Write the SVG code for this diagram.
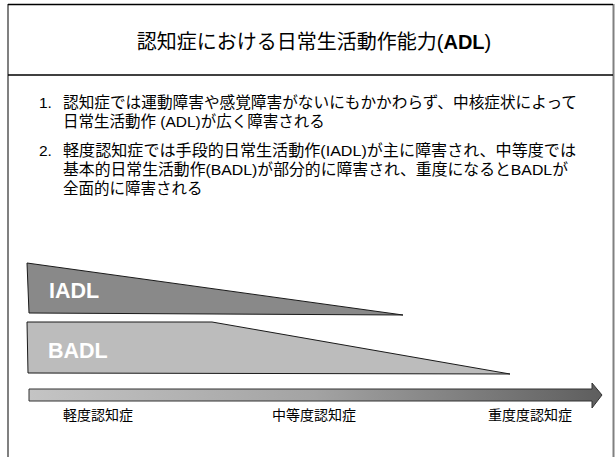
<svg xmlns="http://www.w3.org/2000/svg" width="616" height="457" viewBox="0 0 616 457">
<defs>
<style>
.jp{font-family:"Liberation Sans","Noto Sans CJK JP",sans-serif;fill:#000}
.title{font-size:20px}
.body{font-size:15.5px}
.lab{font-size:14px}
.big{font-family:"Liberation Sans",Arial,sans-serif;font-weight:bold;font-size:21.5px;fill:#fff}
.frame{stroke:#000;stroke-width:1.5}
.side{stroke:#808080;stroke-width:2}
.shape{stroke:#1a1a1a;stroke-width:1}
</style>
<linearGradient id="grad" x1="0" y1="0" x2="1" y2="0">
<stop offset="0" stop-color="#c4c4c4"/>
<stop offset="0.5" stop-color="#a3a3a3"/>
<stop offset="1" stop-color="#5e5e5e"/>
</linearGradient>
</defs>
<rect width="616" height="457" fill="#fff"/>
<g id="frame">
<line class="side" x1="8" y1="4" x2="8" y2="457"/>
<line class="side" x1="613.5" y1="4" x2="613.5" y2="457"/>
<line class="frame" x1="8" y1="4.5" x2="613" y2="4.5"/>
<line class="frame" x1="8" y1="75" x2="613" y2="75"/>
</g>
<g id="title">
<text class="jp title" x="314" y="49" text-anchor="middle">認知症における日常生活動作能力(<tspan font-weight="bold">ADL</tspan>)</text>
</g>
<g id="points">
<text class="jp body" x="39" y="108">1.</text>
<text class="jp body" x="63" y="108" textLength="514" lengthAdjust="spacingAndGlyphs">認知症では運動障害や感覚障害がないにもかかわらず、中核症状によって</text>
<text class="jp body" x="63" y="127">日常生活動作 (ADL)が広く障害される</text>
<text class="jp body" x="39" y="156">2.</text>
<text class="jp body" x="63" y="156" textLength="513" lengthAdjust="spacingAndGlyphs">軽度認知症では手段的日常生活動作(IADL)が主に障害され、中等度では</text>
<text class="jp body" x="63" y="175" textLength="505" lengthAdjust="spacingAndGlyphs">基本的日常生活動作(BADL)が部分的に障害され、重度になるとBADLが</text>
<text class="jp body" x="63" y="194">全面的に障害される</text>
</g>
<g id="iadl">
<polygon class="shape" points="27,263 403,315 29,313" fill="#898989"/>
<text class="big" x="49" y="298">IADL</text>
</g>
<g id="badl">
<polygon class="shape" points="27,322 212,322 510,374 28,373" fill="#bcbcbc"/>
<text class="big" x="48" y="358">BADL</text>
</g>
<g id="connectors">
<path id="axis" d="M29,389 L592,389 L592,383 L602,395 L592,408 L592,401 L29,401 Z" fill="url(#grad)" stroke="#333" stroke-width="1"/>
</g>
<g id="labels">
<text class="jp lab" x="98" y="420" text-anchor="middle">軽度認知症</text>
<text class="jp lab" x="314" y="420" text-anchor="middle">中等度認知症</text>
<text class="jp lab" x="530" y="420" text-anchor="middle">重度度認知症</text>
</g>
</svg>
